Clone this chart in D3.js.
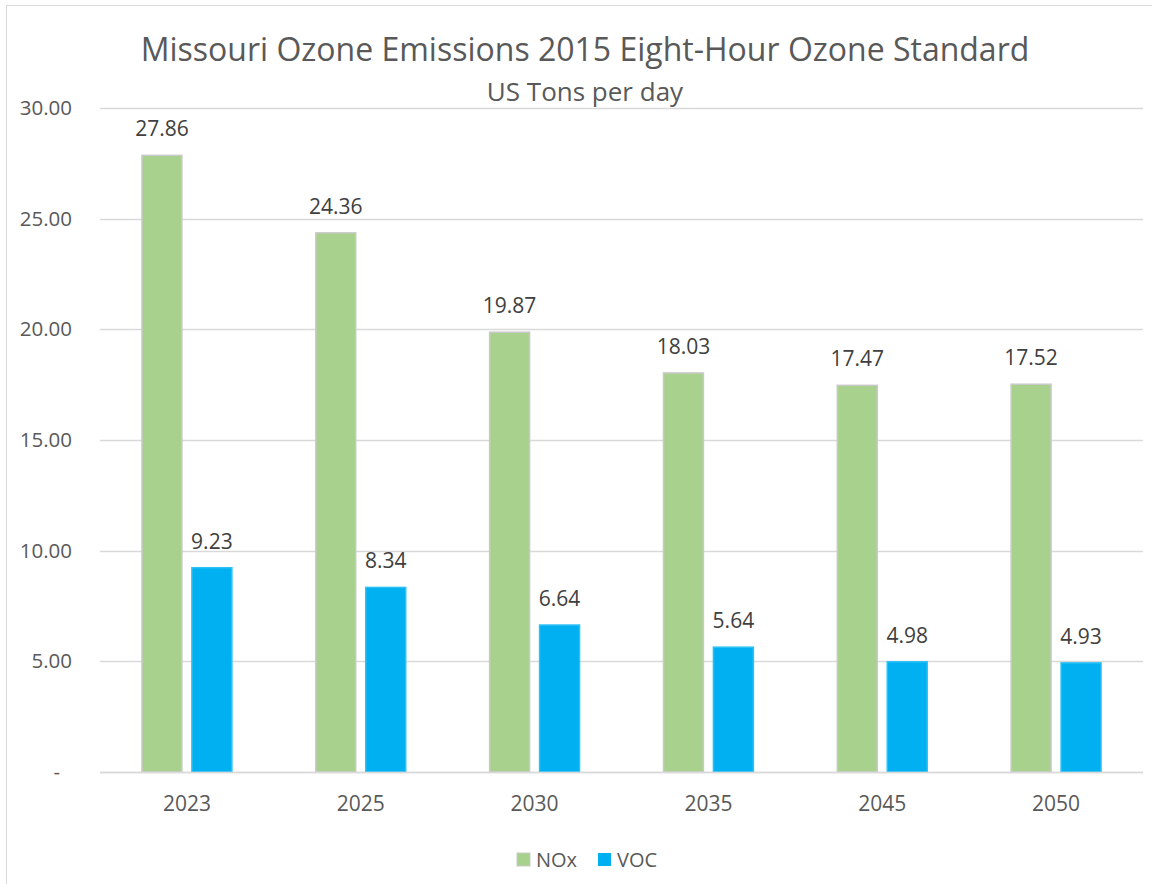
<!DOCTYPE html>
<html>
<head>
<meta charset="utf-8">
<script src="https://cdn.jsdelivr.net/npm/d3@7"></script>
<style>
  body { margin: 0; background: #fff; }
  text { font-family: "Open Sans", "Noto Sans", sans-serif; fill: #595959; }
</style>
</head>
<body>
<svg id="chart" width="1152" height="884"></svg>
<script>
const years = ["2023", "2025", "2030", "2035", "2045", "2050"];
const seriesNames = ["NOx", "VOC"];
const noxValues = [27.86, 24.36, 19.87, 18.03, 17.47, 17.52];
const vocValues = [9.23, 8.34, 6.64, 5.64, 4.98, 4.93];
const yTicks = [0, 5, 10, 15, 20, 25, 30];

const colors = { NOx: "#a9d18e", VOC: "#00b0f0" };
const strokes = { NOx: "#c9c9c9", VOC: "#2dc0f5" };

const svg = d3.select("#chart");
const plotLeft = 100, plotRight = 1143, plotTop = 108, plotBottom = 772;

// Chart border
svg.append("rect")
    .attr("x", 6.5).attr("y", 5.5)
    .attr("width", 1150).attr("height", 890)
    .attr("fill", "none")
    .attr("stroke", "#d9d9d9");

const x = d3.scaleBand().domain(years).range([plotLeft, plotRight]);
const xs = d3.scaleBand().domain(seriesNames).range([0, x.bandwidth()]).paddingInner(0.2).paddingOuter(0.84);
const y = d3.scaleLinear().domain([0, 30]).range([plotBottom, plotTop]);

// Gridlines
svg.append("g")
    .selectAll("line")
    .data(yTicks)
    .enter().append("line")
    .attr("x1", plotLeft).attr("x2", plotRight)
    .attr("y1", d => Math.round(y(d)) + 0.5)
    .attr("y2", d => Math.round(y(d)) + 0.5)
    .attr("stroke", "#d9d9d9")
    .attr("stroke-width", 1.5);

// Y labels
svg.append("g")
    .selectAll("text")
    .data(yTicks)
    .enter().append("text")
    .attr("x", d => d == 0 ? 60 : 72)
    .attr("y", d => y(d) + 7)
    .attr("text-anchor", "end")
    .attr("font-size", 20.5)
    .text(d => d == 0 ? "-" : d3.format(".2f")(d));

const data = years.map((yr, i) => ({ year: yr, NOx: noxValues[i], VOC: vocValues[i] }));

const groups = svg.append("g")
    .selectAll("g")
    .data(data)
    .enter().append("g")
    .attr("transform", d => `translate(${x(d.year)},0)`);

const bars = groups.selectAll("g")
    .data(d => seriesNames.map(k => ({ key: k, value: d[k] })))
    .enter().append("g");

bars.append("rect")
    .attr("x", d => xs(d.key))
    .attr("y", d => y(d.value))
    .attr("width", xs.bandwidth())
    .attr("height", d => plotBottom - y(d.value))
    .attr("fill", d => colors[d.key])
    .attr("stroke", d => strokes[d.key])
    .attr("stroke-width", 1.5);

bars.append("text")
    .attr("x", d => xs(d.key) + xs.bandwidth() / 2)
    .attr("y", d => y(d.value) - 19)
    .attr("text-anchor", "middle")
    .attr("font-size", 21)
    .style("fill", "#404040")
    .text(d => d3.format(".2f")(d.value));

// Baseline
svg.append("line")
    .attr("x1", plotLeft).attr("x2", plotRight)
    .attr("y1", plotBottom + 0.5).attr("y2", plotBottom + 0.5)
    .attr("stroke", "#d9d9d9")
    .attr("stroke-width", 1.5);

// X labels
svg.append("g")
    .selectAll("text")
    .data(years)
    .enter().append("text")
    .attr("x", d => x(d) + x.bandwidth() / 2)
    .attr("y", 811)
    .attr("text-anchor", "middle")
    .attr("font-size", 21)
    .text(d => d);

// Title
svg.append("text")
    .attr("x", 585).attr("y", 61)
    .attr("text-anchor", "middle")
    .attr("font-size", 32)
    .text("Missouri Ozone Emissions 2015 Eight-Hour Ozone Standard");

svg.append("text")
    .attr("x", 585).attr("y", 101)
    .attr("text-anchor", "middle")
    .attr("font-size", 26)
    .text("US Tons per day");

// Legend
const legendPos = [517, 598];
const legend = svg.selectAll(".legend")
    .data(seriesNames)
    .enter().append("g")
    .attr("class", "legend")
    .attr("transform", (d, i) => `translate(${legendPos[i]}, 853)`);

legend.append("rect")
    .attr("width", 13).attr("height", 13)
    .attr("fill", d => colors[d])
    .attr("stroke", d => d == "NOx" ? "#c9c9c9" : "none");

legend.append("text")
    .attr("x", 19).attr("y", 14)
    .attr("font-size", 20)
    .text(d => d);
</script>
</body>
</html>
